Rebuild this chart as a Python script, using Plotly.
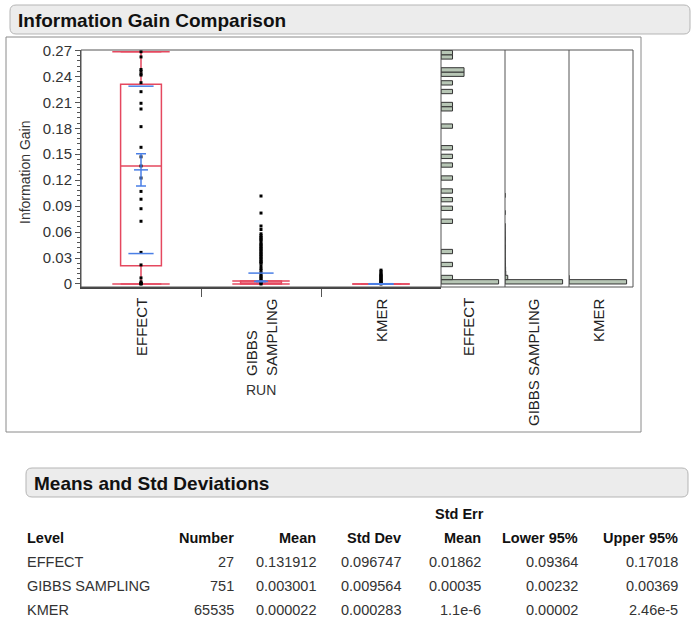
import numpy as np
import plotly.graph_objects as go

W, H = 694, 621
FONT = "Liberation Sans, Arial, sans-serif"
RED = "#e5485f"
BLUE = "#4a7fe6"
HIST_FILL = "#b7c6b5"

# ---------------- data ----------------
categories = ["EFFECT", "GIBBS SAMPLING", "KMER"]
cat_labels = ["EFFECT", "GIBBS<br>SAMPLING", "KMER"]
hist_labels = ["EFFECT", "GIBBS SAMPLING", "KMER"]
x_title = "RUN"
y_title = "Information Gain"
y_tick_vals = [0, 0.03, 0.06, 0.09, 0.12, 0.15, 0.18, 0.21, 0.24, 0.27]
y_tick_text = ["0", "0.03", "0.06", "0.09", "0.12", "0.15", "0.18", "0.21", "0.24", "0.27"]

effect_values = [0.2685, 0.2625, 0.248, 0.246, 0.2428, 0.2415, 0.2327, 0.2223,
                 0.2089, 0.2023, 0.1819, 0.158, 0.147, 0.1364, 0.1225, 0.107,
                 0.098, 0.087, 0.0725, 0.0365, 0.022, 0.007, 0.0025, 0.001,
                 0.0005, 0.0002, 0.0]

gibbs_values = [0.0, 0.001, 0.002, 0.003, 0.004, 0.006, 0.0075, 0.009, 0.011,
                0.013, 0.016, 0.018, 0.021, 0.024, 0.025, 0.026, 0.028, 0.029,
                0.031, 0.032, 0.034, 0.035, 0.037, 0.038, 0.040, 0.041, 0.043,
                0.044, 0.046, 0.047, 0.050, 0.051, 0.053, 0.054, 0.056, 0.058,
                0.063, 0.067, 0.082, 0.1017]
gibbs_counts = [472, 70, 60, 40, 30, 14, 10, 8, 5,
                4, 4, 3, 3, 2, 1, 1, 1, 1,
                1, 1, 1, 1, 1, 1, 1, 1, 1,
                1, 1, 1, 1, 1, 1, 1, 1, 1,
                1, 1, 1, 1]

kmer_values = [0.0, 0.0005, 0.001, 0.002, 0.003, 0.004, 0.005, 0.006, 0.007,
               0.008, 0.009, 0.010, 0.011, 0.0125, 0.0145, 0.016]
kmer_counts = [64244, 800, 300, 100, 40, 20, 10, 6, 4,
               3, 2, 2, 1, 1, 1, 1]

# quantile box summaries
box_q1 = [0.0212, 0.0, 0.0]
box_median = [0.1364, 0.0, 0.0]
box_q3 = [0.2310, 0.0035, 0.0]
box_low = [0.0, 0.0, 0.0]
box_high = [0.2686, 0.0035, 0.0]

# Means and Std Deviations table
tbl_level = ["EFFECT", "GIBBS SAMPLING", "KMER"]
tbl_number = ["27", "751", "65535"]
tbl_mean = ["0.131912", "0.003001", "0.000022"]
tbl_sd = ["0.096747", "0.009564", "0.000283"]
tbl_se = ["0.01862", "0.00035", "1.1e-6"]
tbl_lower = ["0.09364", "0.00232", "0.00002"]
tbl_upper = ["0.17018", "0.00369", "2.46e-5"]

mean_vals = [float(v) for v in tbl_mean]
sd_vals = [float(v) for v in tbl_sd]
se_vals = [float(v) for v in tbl_se]


# ---------------- helpers ----------------
def px(x):
    return x / W


def py(y):
    return 1 - y / H


def rrect_path(x0, y0, x1, y1, r):
    rx, ry = r / W, r / H
    X0, X1 = px(x0), px(x1)
    Y0, Y1 = py(y0), py(y1)
    return (f"M{X0+rx},{Y0} L{X1-rx},{Y0} Q{X1},{Y0} {X1},{Y0-ry} "
            f"L{X1},{Y1+ry} Q{X1},{Y1} {X1-rx},{Y1} L{X0+rx},{Y1} "
            f"Q{X0},{Y1} {X0},{Y1+ry} L{X0},{Y0-ry} Q{X0},{Y0} {X0+rx},{Y0} Z")


PLOT_L, PLOT_R, PLOT_T, PLOT_B = 81, 441, 50, 287
HIST_EDGES = [441, 505, 569, 633]

fig = go.Figure()

# box plots
fig.add_trace(go.Box(
    x=[0, 1, 2], q1=box_q1, median=box_median, q3=box_q3,
    lowerfence=box_low, upperfence=box_high, width=0.34,
    line=dict(color=RED, width=1.5), fillcolor="rgba(0,0,0,0)",
    whiskerwidth=1, showlegend=False, hoverinfo="skip"))

# whisker caps
cap_x, cap_y = [], []
for i in range(3):
    cap_x += [i, i]
    cap_y += [box_low[i], box_high[i]]
fig.add_trace(go.Scatter(
    x=cap_x, y=cap_y, mode="markers",
    marker=dict(symbol="line-ew", size=41, line=dict(color=RED, width=1.5)),
    showlegend=False, hoverinfo="skip"))

# points
dot_sets = [effect_values, gibbs_values, kmer_values]
for i, vals in enumerate(dot_sets):
    fig.add_trace(go.Scatter(
        x=[i] * len(vals), y=vals, mode="markers",
        marker=dict(symbol="square", size=3, color="black"),
        showlegend=False, hoverinfo="skip"))

# mean +/- std error
fig.add_trace(go.Scatter(
    x=[0, 1, 2], y=mean_vals, mode="markers",
    marker=dict(symbol="line-ew", size=10, line=dict(color=BLUE, width=1.5)),
    error_y=dict(type="data", array=se_vals, width=5, thickness=1.5, color=BLUE),
    showlegend=False, hoverinfo="skip"))

# mean +/- std dev lines
sd_x, sd_y = [], []
for i in range(3):
    sd_x += [i, i]
    sd_y += [mean_vals[i] - sd_vals[i], mean_vals[i] + sd_vals[i]]
fig.add_trace(go.Scatter(
    x=sd_x, y=sd_y, mode="markers",
    marker=dict(symbol="line-ew", size=18, line=dict(color=BLUE, width=1.5)),
    showlegend=False, hoverinfo="skip"))

# histograms
bin_edges = np.arange(0, 0.2751, 0.005)
hist_data = [(effect_values, [1] * len(effect_values)),
             (gibbs_values, gibbs_counts),
             (kmer_values, kmer_counts)]
layout_axes = {}
for i, (vals, cnts) in enumerate(hist_data):
    ax = f"x{i+2}"
    fig.add_trace(go.Histogram(
        y=vals, x=cnts, histfunc="sum", orientation="h",
        ybins=dict(start=0, end=0.275, size=0.005),
        xaxis=ax, yaxis="y",
        marker=dict(color=HIST_FILL, line=dict(color="#333333", width=1)),
        showlegend=False, hoverinfo="skip"))
    counts, _ = np.histogram(vals, bins=bin_edges, weights=cnts)
    layout_axes[f"xaxis{i+2}"] = dict(
        domain=[px(HIST_EDGES[i]), px(HIST_EDGES[i + 1])],
        range=[0, counts.max() / 0.9], visible=False, anchor="y",
        fixedrange=True, automargin=False)

shapes = []
# outer frame
shapes.append(dict(type="rect", xref="paper", yref="paper",
                   x0=px(6), x1=px(641), y0=py(432), y1=py(37),
                   line=dict(color="#8a8a8a", width=1), layer="below"))
# title boxes
shapes.append(dict(type="path", xref="paper", yref="paper",
                   path=rrect_path(10, 5, 690, 34, 6),
                   fillcolor="#ececec", line=dict(color="#b5b5b5", width=1)))
shapes.append(dict(type="path", xref="paper", yref="paper",
                   path=rrect_path(26, 468, 688, 497, 6),
                   fillcolor="#ececec", line=dict(color="#b5b5b5", width=1)))
# plot frame
shapes.append(dict(type="rect", xref="paper", yref="paper",
                   x0=px(PLOT_L), x1=px(HIST_EDGES[-1]), y0=py(PLOT_B), y1=py(PLOT_T),
                   line=dict(color="#555555", width=1)))
for e in HIST_EDGES[:-1]:
    shapes.append(dict(type="line", xref="paper", yref="paper",
                       x0=px(e), x1=px(e), y0=py(PLOT_B), y1=py(PLOT_T),
                       line=dict(color="#555555", width=1)))

annotations = []


def ann(text, x, y, xanchor="left", yanchor="middle", size=14.5, color="#222",
        xref="paper", angle=0, align="left"):
    annotations.append(dict(text=text, x=x, y=y, xref=xref, yref="paper",
                            xanchor=xanchor, yanchor=yanchor, showarrow=False,
                            textangle=angle, align=align,
                            font=dict(family=FONT, size=size, color=color)))


ann("<b>Information Gain Comparison</b>", px(16), py(20), size=19, color="#111")
ann("<b>Means and Std Deviations</b>", px(32), py(483), size=19, color="#111")

# axis titles
ann(y_title, px(25), py(172), xanchor="center", size=14, color="#333", angle=-90)
ann(x_title, px(261), py(390), xanchor="center", size=14, color="#333")

# category labels
for i, lab in enumerate(cat_labels):
    ann(lab, i, py(296), xanchor="center", yanchor="top", size=15, color="#222",
        xref="x", angle=-90, align="left")
hist_label_x = [468, 533, 598]
for lab, hx in zip(hist_labels, hist_label_x):
    ann(lab, px(hx), py(296), xanchor="center", yanchor="top", size=15,
        color="#222", angle=-90)

# table
headers = [("Level", 25, "left"), ("Number", 236, "right"), ("Mean", 318, "right"),
           ("Std Dev", 403, "right"), ("Mean", 483, "right"),
           ("Lower 95%", 580, "right"), ("Upper 95%", 680, "right")]
ann("<b>Std Err</b>", px(486), py(514), xanchor="right", color="#111")
for t, x, a in headers:
    ann(f"<b>{t}</b>", px(x), py(538), xanchor=a, color="#111")
cols = [tbl_level, tbl_number, tbl_mean, tbl_sd, tbl_se, tbl_lower, tbl_upper]
row_y = [562, 586, 610]
for r in range(3):
    for (t, x, a), col in zip(headers, cols):
        ann(col[r], px(x), py(row_y[r]), xanchor=a, color="#333")

fig.update_layout(
    width=W, height=H,
    margin=dict(l=0, r=0, t=0, b=0, pad=0, autoexpand=False),
    paper_bgcolor="white", plot_bgcolor="white",
    showlegend=False, bargap=0,
    font=dict(family=FONT, color="#333"),
    xaxis=dict(domain=[px(PLOT_L), px(PLOT_R)], range=[-0.5, 2.5],
               tickmode="array", tickvals=[0.5, 1.5], ticks="outside",
               ticklen=8, tickcolor="#555", showticklabels=False,
               showgrid=False, zeroline=False, showline=True, automargin=False,
               linecolor="#444", linewidth=1.5, anchor="y", fixedrange=True),
    yaxis=dict(domain=[py(PLOT_B), py(PLOT_T)], range=[-0.0035, 0.2705],
               tickmode="array", tickvals=y_tick_vals, ticktext=y_tick_text,
               ticks="outside", ticklen=5, tickcolor="#555", automargin=False,
               tickfont=dict(family=FONT, size=15, color="#333"),
               minor=dict(tickmode="linear", tick0=0, dtick=0.006, ticks="outside",
                          ticklen=3, tickcolor="#555"),
               showgrid=False, zeroline=False, showline=True,
               linecolor="#555", linewidth=1, anchor="x", fixedrange=True),
    shapes=shapes, annotations=annotations,
    **layout_axes,
)

post = ("document.documentElement.style.margin='0';"
        "document.body.style.margin='0';"
        "document.documentElement.style.overflow='hidden';"
        "document.body.style.overflow='hidden';")

fig.write_html(
    "out.html",
    config={"displayModeBar": False, "staticPlot": True},
    post_script=post,
)
